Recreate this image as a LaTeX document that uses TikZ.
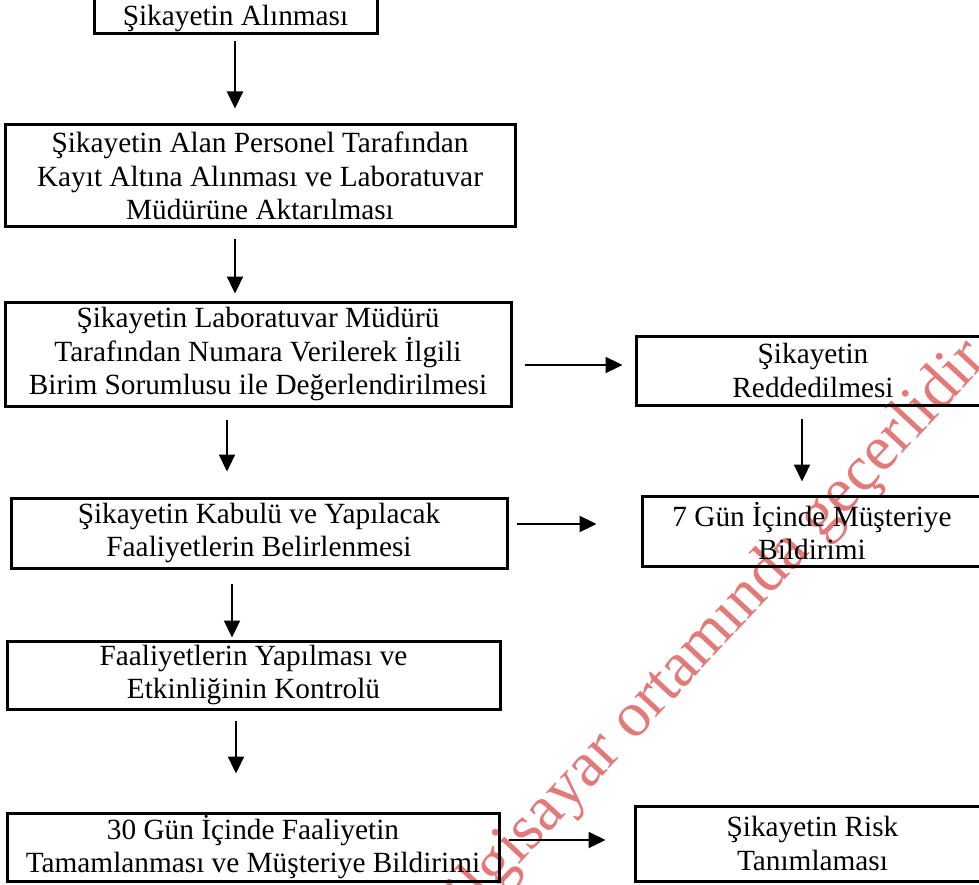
\documentclass[tikz,border=0pt]{standalone}
\usepackage{fontspec}
\setmainfont{Liberation Serif}
\usetikzlibrary{arrows.meta}
\definecolor{wm}{RGB}{226,122,122}
\begin{document}
\begin{tikzpicture}[x=1pt,y=-1pt,
  box/.style={draw, line width=3pt, align=center, inner sep=0pt,
    font=\fontsize{29.3}{33.5}\selectfont},
  arr/.style={line width=2.3pt, -{Triangle[length=17pt,width=16pt]}}]
\useasboundingbox (0,0) rectangle (979,885);
% watermark
\node[text=wm, rotate=47, anchor=base, font=\fontsize{64}{70}\selectfont] (wmark) at (720,650) {bilgisayar ortamında geçerlidir};
% boxes
\node[box, minimum width=283pt, minimum height=37pt] (n1) at (235.5,15.5) {\raisebox{-3pt}[\height][\depth]{Şikayetin Alınması}};
\node[box, minimum width=510pt, minimum height=102pt] (n2) at (260,176) {Şikayetin Alan Personel Tarafından\\Kayıt Altına Alınması ve Laboratuvar\\Müdürüne Aktarılması};
\node[box, minimum width=506pt, minimum height=104pt] (n3) at (258,354) {Şikayetin Laboratuvar Müdürü\\Tarafından Numara Verilerek İlgili\\Birim Sorumlusu ile Değerlendirilmesi};
\node[box, minimum width=354pt, minimum height=69pt] (nr) at (813,370.5) {Şikayetin\\Reddedilmesi};
\node[box, minimum width=340pt, minimum height=70pt] (ng) at (812,531) {7 Gün İçinde Müşteriye\\Bildirimi};
\node[box, minimum width=496pt, minimum height=70pt] (n4) at (259,533) {Şikayetin Kabulü ve Yapılacak\\Faaliyetlerin Belirlenmesi};
\node[box, minimum width=493pt, minimum height=68pt] (n5) at (253.5,675) {Faaliyetlerin Yapılması ve\\Etkinliğinin Kontrolü};
\node[box, minimum width=492pt, minimum height=68pt] (n6) at (253,847) {30 Gün İçinde Faaliyetin\\Tamamlanması ve Müşteriye Bildirimi};
\node[box, minimum width=355pt, minimum height=75pt] (nk) at (812.5,843.5) {Şikayetin Risk\\Tanımlaması};
% arrows
\draw[arr, shorten <=6pt, shorten >=15pt] (n1.south -| 235,0) -- (n2.north -| 235,0);
\draw[arr, shorten <=11pt, shorten >=7pt] (n2.south -| 235,0) -- (n3.north -| 235,0);
\draw[arr, shorten <=12pt, shorten >=12pt] (n3.east |- 0,365) -- (nr.west |- 0,365);
\draw[arr, shorten <=12pt, shorten >=25pt] (n3.south -| 227,0) -- (n4.north -| 227,0);
\draw[arr, shorten <=12pt, shorten >=13pt] (nr.south -| 802,0) -- (ng.north -| 802,0);
\draw[arr, shorten <=8pt, shorten >=44pt] (n4.east |- 0,524) -- (ng.west |- 0,524);
\draw[arr, shorten <=14pt, shorten >=2pt] (n4.south -| 232,0) -- (n5.north -| 232,0);
\draw[arr, shorten <=10pt, shorten >=38pt] (n5.south -| 236,0) -- (n6.north -| 236,0);
\draw[arr, shorten <=8pt, shorten >=28pt] (n6.east |- 0,840) -- (nk.west |- 0,840);
\end{tikzpicture}
\end{document}
